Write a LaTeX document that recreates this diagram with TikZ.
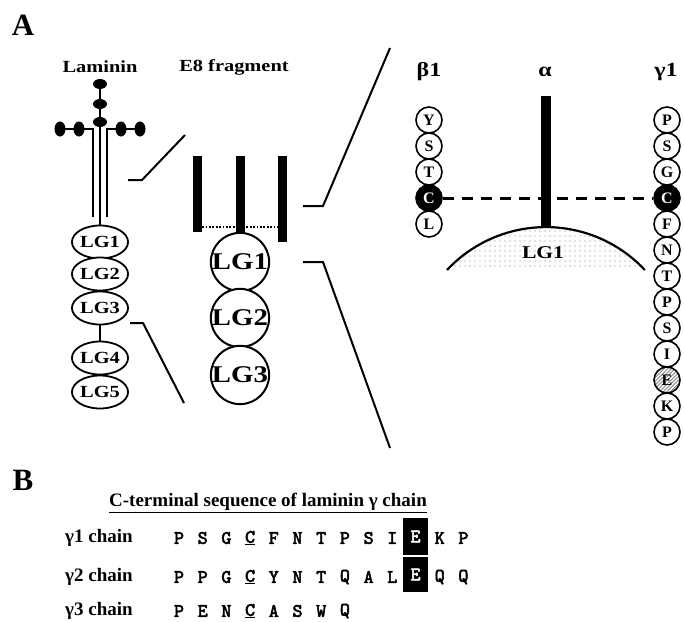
\documentclass[tikz,border=0pt]{standalone}
\usepackage{fontspec}
\setmainfont{Liberation Serif}
\newfontfamily\aamono[FakeBold=3]{lmmono10-regular.otf}
\usetikzlibrary{patterns,patterns.meta,shapes.geometric}
\newcommand\hw[1]{\scalebox{1.2}[1]{#1}}
\newcommand\aafnt{\fontsize{19}{19}\selectfont\aamono}
\begin{document}
\begin{tikzpicture}[x=1pt,y=-1pt,
  wire/.style={line width=2pt},
  panel/.style={font=\fontsize{31}{31}\selectfont\bfseries, inner sep=0pt},
  hdr/.style={font=\fontsize{17}{17}\selectfont\bfseries, inner sep=0pt},
  greek/.style={font=\fontsize{20}{20}\selectfont\bfseries, inner sep=0pt},
  knobv/.style={ellipse, fill=black, minimum width=14pt, minimum height=10pt, inner sep=0pt},
  knobh/.style={ellipse, fill=black, minimum width=11pt, minimum height=15pt, inner sep=0pt},
  lgell/.style={ellipse, draw, line width=1.8pt, fill=white, minimum width=43pt, minimum height=33pt, inner sep=0pt, font=\fontsize{17}{17}\selectfont\bfseries},
  lgcirc/.style={circle, draw, line width=2pt, fill=white, minimum size=56pt, inner sep=0pt, font=\fontsize{24}{24}\selectfont\bfseries},
  bar/.style={rectangle, fill=black, inner sep=0pt, minimum width=9pt},
  res/.style={circle, draw, line width=1.6pt, fill=white, minimum size=26pt, inner sep=0pt, font=\fontsize{16}{16}\selectfont\bfseries},
  resC/.style={res, fill=black, text=white},
  resE/.style={res, pattern={Lines[angle=45,distance=2.6pt,line width=0.9pt]}, pattern color=gray},
  seqlbl/.style={font=\fontsize{19}{19}\selectfont\bfseries, inner sep=0pt, anchor=west},
  aa/.style={font=\aafnt, inner sep=0pt},
  ebox/.style={rectangle, fill=black, text=white, minimum width=25pt, inner sep=0pt, font=\aafnt}
]
\useasboundingbox (0,0) rectangle (684,621);

% ---------- panel A ----------
\node[panel] (pA) at (23,25) {A};
\node[hdr] (lamlbl) at (100,67) {\hw{Laminin}};
\node[hdr] (e8lbl) at (234,67) {\hw{E8 fragment}};

% laminin molecule
\coordinate (la1) at (93,129);
\coordinate (la2) at (93,217);
\coordinate (ra1) at (107,129);
\coordinate (ra2) at (107,217);
\node[lgell] (L1) at (100,242) {\hw{LG1}};
\node[lgell] (L2) at (100,274) {\hw{LG2}};
\node[lgell] (L3) at (100,308) {\hw{LG3}};
\node[lgell] (L4) at (100,358) {\hw{LG4}};
\node[lgell] (L5) at (100,392) {\hw{LG5}};
\coordinate (ktop) at (100,84);
\draw[wire] (ktop) -- (L1.north);
\node[knobh] (h1) at (60,129) {};
\node[knobh] (h4) at (140,129) {};
\draw[wire] (h1.center) -- (la1) -- (la2);
\draw[wire] (h4.center) -- (ra1) -- (ra2);
\node[knobv] (k1) at (100,84) {};
\node[knobv] (k2) at (100,104) {};
\node[knobv] (k3) at (100,122) {};
\node[knobh] (h2) at (79,129) {};
\node[knobh] (h3) at (121,129) {};
\draw[wire] (L3.south) -- (L4.north);

% zoom lines laminin -> E8
\coordinate (z1a) at (128,180);
\coordinate (z1b) at (142,180);
\coordinate (z1c) at (185,135);
\draw[wire] (z1a) -- (z1b) -- (z1c);
\coordinate (z2a) at (130,323);
\coordinate (z2b) at (143,323);
\coordinate (z2c) at (184,403);
\draw[wire] (z2a) -- (z2b) -- (z2c);

% E8 fragment
\node[bar, minimum height=76pt] (b1) at (197.5,194) {};
\node[bar, minimum height=79pt] (b2) at (240.5,195.5) {};
\node[bar, minimum height=86pt] (b3) at (282.5,199) {};
\draw[line width=1.5pt, dash pattern=on 1.8pt off 1.6pt]
  ([yshift=5pt]b1.south east) -- ([yshift=5pt]b1.south east -| b3.west);
\node[lgcirc] (E1) at (240,262) {\hw{LG1}};
\node[lgcirc] (E2) at (240,318) {\hw{LG2}};
\node[lgcirc] (E3) at (240,375) {\hw{LG3}};

% zoom lines E8 -> detail
\coordinate (z3a) at (303,206);
\coordinate (z3b) at (323,206);
\coordinate (z3c) at (390,48);
\draw[wire] (z3a) -- (z3b) -- (z3c);
\coordinate (z4a) at (303,262);
\coordinate (z4b) at (323,262);
\coordinate (z4c) at (390,448);
\draw[wire] (z4a) -- (z4b) -- (z4c);

% detail
\node[greek] (blbl) at (429,72) {\hw{β1}};
\node[greek] (albl) at (545,72) {\hw{α}};
\node[greek] (glbl) at (666,72) {\hw{γ1}};

\fill[pattern={Dots[radius=0.6pt,distance=5pt]}, pattern color=gray]
  (447,270) arc[start angle=-136.9, end angle=-43.1, radius=135.5] -- cycle;
\draw[line width=2.2pt] (447,270) arc[start angle=-136.9, end angle=-43.1, radius=135.5];
\node[font=\fontsize{18}{18}\selectfont\bfseries, inner sep=0pt] (arcl) at (543,253) {\hw{LG1}};
\node[bar, minimum width=10pt, minimum height=131pt] (abar) at (546,161.5) {};

\foreach \l [count=\i] in {Y,S,T,C,L}{
  \ifnum\i=4
    \node[resC] (bb\i) at (429,{94+26*\i}) {\l};
  \else
    \node[res] (bb\i) at (429,{94+26*\i}) {\l};
  \fi
}
\foreach \l [count=\i] in {P,S,G,C,F,N,T,P,S,I,E,K,P}{
  \ifnum\i=4
    \node[resC] (gg\i) at (667,{94+26*\i}) {\l};
  \else\ifnum\i=11
    \node[resE] (gg\i) at (667,{94+26*\i}) {\l};
  \else
    \node[res] (gg\i) at (667,{94+26*\i}) {\l};
  \fi\fi
}
\draw[line width=3pt, dash pattern=on 11pt off 8pt] (bb4.east) -- (gg4.west);

% ---------- panel B ----------
\node[panel] (pB) at (23,480) {B};
\node[font=\fontsize{19}{19}\selectfont\bfseries, inner sep=0pt] (title) at (268,503)
  {\underline{C-terminal sequence of laminin γ chain}};
\node[seqlbl] (r1) at (65,538) {γ1 chain};
\node[seqlbl] (r2) at (65,577) {γ2 chain};
\node[seqlbl] (r3) at (65,611) {γ3 chain};

\node[ebox, minimum height=37pt] (e1) at (415.5,536.5) {E};
\node[ebox, minimum height=35pt] (e2) at (415.5,574.5) {E};

\foreach \l [count=\i] in {P,S,G,\underline{C},F,N,T,P,S,I,,K,P}{
  \node[aa] (s1-\i) at ({179+23.7*(\i-1)},538) {\l};
}
\foreach \l [count=\i] in {P,P,G,\underline{C},Y,N,T,Q,A,L,,Q,Q}{
  \node[aa] (s2-\i) at ({179+23.7*(\i-1)},577) {\l};
}
\foreach \l [count=\i] in {P,E,N,\underline{C},A,S,W,Q}{
  \node[aa] (s3-\i) at ({179+23.7*(\i-1)},611) {\l};
}
\end{tikzpicture}
\end{document}
